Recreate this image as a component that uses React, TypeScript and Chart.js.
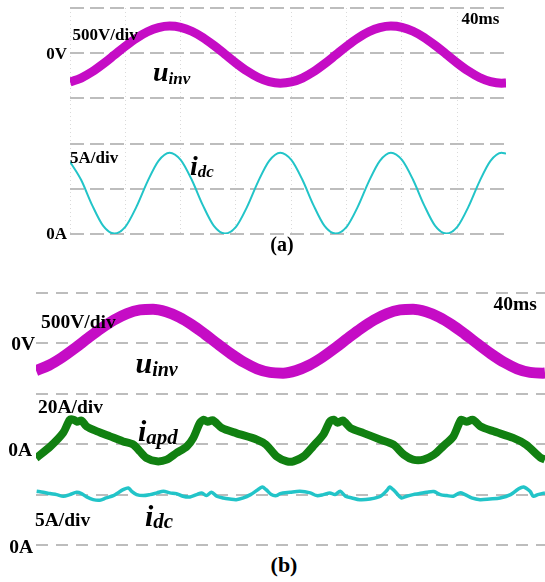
import React, { useEffect, useRef } from "react";
import { Chart, registerables } from "chart.js";
Chart.register(...registerables);

// ---------- Panel (a) : time in ms ----------
const timeA = [0,1,2,3,4,5,6,7,8,9,10,11,12,13,14,15,16,17,18,19,20,21,22,23,24,25,26,27,28,29,30,31,32,33,34,35,36,37,38,39,39.4];
const uinvA = [-318,-275,-206,-118,-21,77,166,237,283,300,286,243,174,86,-11,-109,-198,-269,-315,-332,-318,-275,-206,-118,-21,77,166,237,283,300,286,243,174,86,-11,-109,-198,-269,-315,-332,-330];
const idcA = [8.0,6.0,3.2,0.9,0.05,0.8,3.0,5.8,8.1,9.0,8.2,6.0,3.2,0.9,0.05,0.8,3.0,5.8,8.1,9.0,8.2,6.0,3.2,0.9,0.05,0.8,3.0,5.8,8.1,9.0,8.2,6.0,3.2,0.9,0.05,0.8,3.0,5.8,8.1,9.0,8.9];
const gridTicksA = [0,5,10,15,20,25,30,35];

// ---------- Panel (b) ----------
const timeB = [0,1,2,3,4,5,6,7,8,9,10,11,12,13,14,15,16,17,18,19,20,21,22,23,24,25,26,27,28,29,30,31,32,33,34,35,36,37,38,39,39.15];
const uinvB = [-270,-217,-140,-47,52,148,232,296,332,339,314,261,184,91,-8,-104,-188,-252,-288,-295,-270,-217,-140,-47,52,148,232,296,332,339,314,261,184,91,-8,-104,-188,-252,-288,-295,-293];
const apdTime = [0,1.1,2.1,2.6,2.9,3.15,3.5,3.9,4.7,5.7,6.7,7.5,8.0,8.5,9.3,10.05,10.8,11.6,12.1,12.6,12.9,13.2,13.6,14.3,15.4,17.0,17.7,18.5,19.3,19.8,20.6,21.3,22.1,22.6,22.9,23.2,23.6,24.2,25.2,26.5,27.5,28.3,29.0,29.8,30.6,31.3,32.1,32.7,33.1,33.6,34.2,35.2,36.7,37.7,38.8,39.15];
const iapdB = [-5.5,-0.9,4.6,9.7,9.7,8.9,9.4,7.0,5.1,3.1,1.1,-0.2,-2.9,-5.5,-6.8,-6.1,-3.5,-0.9,2.5,8.4,9.7,8.9,9.5,6.4,4.4,1.8,-0.2,-4.8,-6.8,-6.8,-4.8,-0.9,3.8,9.0,9.7,8.5,9.4,6.4,4.4,1.8,-0.2,-4.2,-6.1,-6.1,-4.2,-0.9,3.1,9.7,8.9,9.7,7.0,5.1,2.5,-0.2,-5.3,-6.1];
const dcTime = [0.05,0.56,1.08,1.59,2.1,2.6,3.13,3.5,3.9,4.4,4.9,5.4,5.95,6.3,6.7,7.1,7.36,7.74,8.25,8.77,9.3,9.8,10.3,10.8,11.3,11.85,12.36,12.75,13.1,13.5,13.9,14.4,14.9,15.4,15.95,16.5,17.0,17.4,17.7,18.1,18.5,18.77,19.54,20.3,21.1,21.6,22.1,22.6,23.0,23.4,23.8,24.3,24.9,25.7,26.5,27.0,27.2,27.6,28.1,28.5,29.0,29.5,30.05,30.6,31.1,31.6,32.1,32.6,33.0,33.5,34.15,34.9,35.7,36.5,37.1,37.5,38.0,38.25,38.6,39.15];
const idcB = [5.33,5.23,5.10,5.0,4.84,5.0,5.23,5.10,4.77,4.50,4.44,4.67,4.9,5.17,5.49,5.66,5.33,5.0,4.9,5.0,5.17,5.33,5.17,5.10,4.84,4.77,5.0,5.17,4.9,5.23,4.84,4.67,4.57,4.50,4.67,5.0,5.43,5.76,5.49,5.0,4.9,5.10,5.23,5.33,5.17,4.9,5.0,5.17,5.0,5.33,4.84,4.67,4.50,4.57,4.84,5.43,5.76,5.33,4.67,4.84,5.0,5.10,5.23,5.30,5.0,4.9,4.84,5.17,5.0,4.67,4.50,4.57,4.67,5.0,5.56,5.76,5.33,4.84,5.0,5.17];

const MAGENTA = "#c50cc5";
const CYAN = "#22c4c8";
const GREEN = "#118011";
const GRID = "#bdbdbd";
const SERIF = '"Liberation Serif","Times New Roman",Times,serif';

const pts = (xs: number[], ys: number[]) => xs.map((x, i) => ({ x, y: ys[i] }));

const dashedGrid = (min: number, max: number, step: number, dash: number[]) => ({
  type: "linear",
  position: "left",
  min,
  max,
  z: 1,
  ticks: { display: false, stepSize: step },
  grid: { display: true, color: GRID, lineWidth: 2, drawTicks: false },
  border: { display: false, dash },
});

const baseOptions = {
  responsive: false,
  animation: false,
  devicePixelRatio: 1,
  events: [],
  layout: { padding: 6 },
  plugins: { legend: { display: false }, tooltip: { enabled: false }, title: { display: false } },
};

function Txt({ x, y, size, anchor = "start", children }: any) {
  const style: any = {
    position: "absolute",
    top: y - 0.8375 * size,
    fontSize: size,
    lineHeight: `${size}px`,
    fontFamily: SERIF,
    fontWeight: "bold",
    whiteSpace: "nowrap",
    color: "#000",
  };
  if (anchor === "end") style.right = 545 - x;
  else if (anchor === "middle") {
    style.left = x;
    style.transform = "translateX(-50%)";
  } else style.left = x;
  return <div style={style}>{children}</div>;
}

function Sym({ x, y, size, sub, subSize, drop }: any) {
  return (
    <div
      style={{
        position: "absolute",
        left: x,
        top: y - 0.8375 * size,
        fontSize: size,
        lineHeight: `${size}px`,
        fontFamily: SERIF,
        fontWeight: "bold",
        fontStyle: "italic",
        whiteSpace: "nowrap",
        color: "#000",
      }}
    >
      {sub.main}
      <span style={{ fontSize: subSize, position: "relative", top: drop }}>{sub.text}</span>
    </div>
  );
}

export default function App() {
  const refA = useRef<HTMLCanvasElement>(null);
  const refB = useRef<HTMLCanvasElement>(null);

  useEffect(() => {
    const chartA = new Chart(refA.current as HTMLCanvasElement, {
      type: "line",
      data: {
        datasets: [
          {
            data: pts(timeA, uinvA),
            yAxisID: "yU",
            borderColor: MAGENTA,
            borderWidth: 9,
            pointRadius: 0,
            cubicInterpolationMode: "monotone",
            fill: false,
          },
          {
            data: pts(timeA, idcA),
            yAxisID: "yI",
            borderColor: CYAN,
            borderWidth: 2,
            pointRadius: 0,
            cubicInterpolationMode: "monotone",
            fill: false,
          },
        ],
      },
      options: {
        ...baseOptions,
        scales: {
          x: {
            type: "linear",
            min: 0,
            max: 39.4,
            ticks: { display: false },
            grid: { display: true, color: "#dadada", lineWidth: 1, drawTicks: false },
            border: { display: false, dash: [1, 3] },
            afterBuildTicks: (s: any) => {
              s.ticks = gridTicksA.map((v) => ({ value: v }));
            },
          },
          yI: dashedGrid(0, 25, 5, [14, 6]),
          yU: { type: "linear", min: -2000, max: 500, display: false },
        },
      } as any,
    } as any);

    const chartB = new Chart(refB.current as HTMLCanvasElement, {
      type: "line",
      data: {
        datasets: [
          {
            data: pts(timeB, uinvB),
            yAxisID: "yU",
            borderColor: MAGENTA,
            borderWidth: 11,
            pointRadius: 0,
            cubicInterpolationMode: "monotone",
            fill: false,
          },
          {
            data: pts(apdTime, iapdB),
            yAxisID: "yA",
            borderColor: GREEN,
            borderWidth: 8,
            pointRadius: 0,
            tension: 0.25,
            fill: false,
          },
          {
            data: pts(dcTime, idcB),
            yAxisID: "yD",
            borderColor: CYAN,
            borderWidth: 3.5,
            pointRadius: 0,
            tension: 0.3,
            fill: false,
          },
        ],
      },
      options: {
        ...baseOptions,
        scales: {
          x: { type: "linear", min: 0, max: 39.15, display: false },
          yD: dashedGrid(0, 25, 5, [12, 8]),
          yU: { type: "linear", min: -2000, max: 500, display: false },
          yA: { type: "linear", min: -40, max: 60, display: false },
        },
      } as any,
    } as any);

    return () => {
      chartA.destroy();
      chartB.destroy();
    };
  }, []);

  return (
    <div style={{ position: "absolute", left: 0, top: 0, width: 545, height: 582, overflow: "hidden", background: "#fff" }}>
      <canvas ref={refA} width={448} height={238} style={{ position: "absolute", left: 64, top: 2 }} />
      <canvas ref={refB} width={521} height={264} style={{ position: "absolute", left: 30, top: 287 }} />

      {/* panel (a) */}
      <Txt x={461.5} y={24} size={17}>40ms</Txt>
      <Txt x={72.5} y={40.5} size={17}>500V/div</Txt>
      <Txt x={67} y={59} size={17} anchor="end">0V</Txt>
      <Sym x={153} y={81.5} size={28} subSize={17} drop={3} sub={{ main: "u", text: "inv" }} />
      <Txt x={70} y={163.5} size={17}>5A/div</Txt>
      <Sym x={190} y={175} size={28} subSize={17} drop={2} sub={{ main: "i", text: "dc" }} />
      <Txt x={67} y={239.5} size={17} anchor="end">0A</Txt>
      <Txt x={282} y={251} size={20} anchor="middle">(a)</Txt>

      {/* panel (b) */}
      <Txt x={493.5} y={310} size={19.5}>40ms</Txt>
      <Txt x={41} y={328} size={19.5}>500V/div</Txt>
      <Txt x={35} y={350} size={19.5} anchor="end">0V</Txt>
      <Sym x={135.5} y={373} size={30} subSize={20} drop={3} sub={{ main: "u", text: "inv" }} />
      <Txt x={38} y={413} size={19.5}>20A/div</Txt>
      <Sym x={138} y={441.5} size={30} subSize={21} drop={3} sub={{ main: "i", text: "apd" }} />
      <Txt x={32} y={456.5} size={19.5} anchor="end">0A</Txt>
      <Txt x={35} y={526.5} size={19.5}>5A/div</Txt>
      <Sym x={145} y={526.5} size={30} subSize={21} drop={2} sub={{ main: "i", text: "dc" }} />
      <Txt x={33} y={553} size={19.5} anchor="end">0A</Txt>
      <Txt x={284} y={572} size={22} anchor="middle">(b)</Txt>
    </div>
  );
}
